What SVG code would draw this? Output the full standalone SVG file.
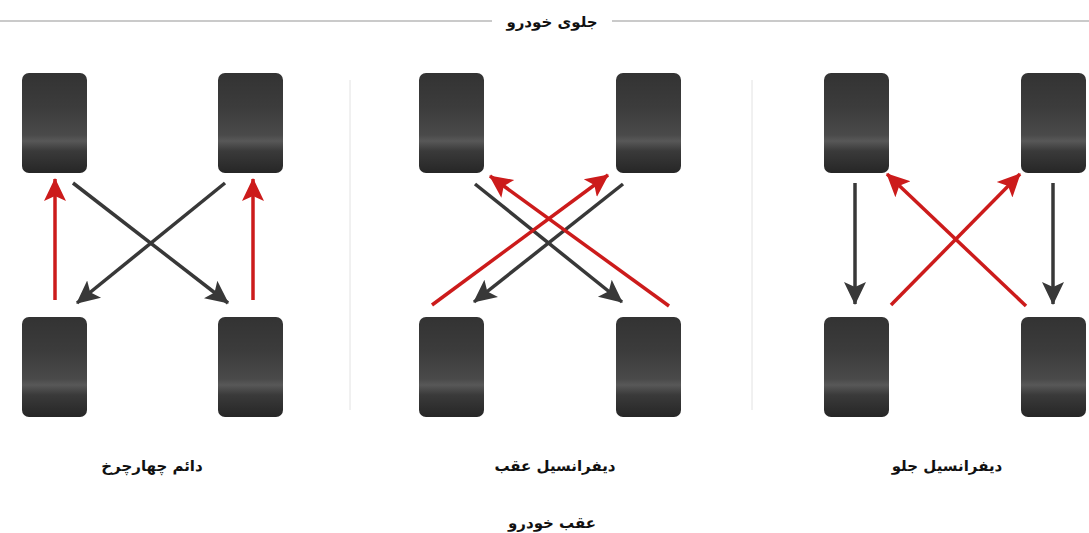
<svg xmlns="http://www.w3.org/2000/svg" width="1089" height="533" viewBox="0 0 1089 533">
<style>
.lbl{font-family:"DejaVu Sans","Noto Sans",sans-serif;font-weight:bold;font-size:15px;fill:#111;text-anchor:middle}
.tire{fill:url(#tg)}
.red{stroke:#cc1b1b;stroke-width:3.5;fill:none}
.dark{stroke:#383838;stroke-width:3.5;fill:none}
.sep{stroke:#e2e2e2;stroke-width:1}
.hl{stroke:#b8b8b8;stroke-width:1.5}
</style>
<defs>
<linearGradient id="tg" x1="0" y1="0" x2="0" y2="1">
<stop offset="0" stop-color="#333"/>
<stop offset="0.35" stop-color="#3c3c3c"/>
<stop offset="0.62" stop-color="#4a4a4a"/>
<stop offset="0.68" stop-color="#585858"/>
<stop offset="0.78" stop-color="#3a3a3a"/>
<stop offset="1" stop-color="#262626"/>
</linearGradient>
<marker id="ar" markerUnits="userSpaceOnUse" markerWidth="24" markerHeight="24" viewBox="0 0 24 24" refX="22" refY="12" orient="auto">
<path d="M0,1 L23,12 L0,23 L5,12 z" fill="#cc1b1b"/>
</marker>
<marker id="ad" markerUnits="userSpaceOnUse" markerWidth="24" markerHeight="24" viewBox="0 0 24 24" refX="22" refY="12" orient="auto">
<path d="M0,1 L23,12 L0,23 L5,12 z" fill="#383838"/>
</marker>
</defs>
<rect width="1089" height="533" fill="#fff"/>
<g id="header">
<line class="hl" x1="0" y1="21" x2="492" y2="21"/>
<line class="hl" x1="612" y1="21" x2="1089" y2="21"/>
<text class="lbl" x="552" y="27" direction="rtl">جلوی خودرو</text>
</g>
<g id="separators">
<line class="sep" x1="350" y1="80" x2="350" y2="410"/>
<line class="sep" x1="752" y1="80" x2="752" y2="410"/>
</g>
<g id="panel-4wd">
<rect class="tire" x="22" y="73" width="65" height="100" rx="7"/>
<rect class="tire" x="218" y="73" width="65" height="100" rx="7"/>
<rect class="tire" x="22" y="317" width="65" height="100" rx="7"/>
<rect class="tire" x="218" y="317" width="65" height="100" rx="7"/>
<text class="lbl" x="152" y="471" direction="rtl">دائم چهارچرخ</text>
</g>
<g id="panel-rwd">
<rect class="tire" x="419" y="73" width="65" height="100" rx="7"/>
<rect class="tire" x="616" y="73" width="65" height="100" rx="7"/>
<rect class="tire" x="419" y="317" width="65" height="100" rx="7"/>
<rect class="tire" x="616" y="317" width="65" height="100" rx="7"/>
<text class="lbl" x="555" y="471" direction="rtl">دیفرانسیل عقب</text>
</g>
<g id="panel-fwd">
<rect class="tire" x="824" y="73" width="65" height="100" rx="7"/>
<rect class="tire" x="1021" y="73" width="65" height="100" rx="7"/>
<rect class="tire" x="824" y="317" width="65" height="100" rx="7"/>
<rect class="tire" x="1021" y="317" width="65" height="100" rx="7"/>
<text class="lbl" x="947" y="471" direction="rtl">دیفرانسیل جلو</text>
</g>
<g id="footer">
<text class="lbl" x="552" y="528" direction="rtl">عقب خودرو</text>
</g>
<g id="connectors">
<line class="red" x1="55" y1="300" x2="55" y2="179" marker-end="url(#ar)"/>
<line class="red" x1="253" y1="300" x2="253" y2="179" marker-end="url(#ar)"/>
<line class="dark" x1="73" y1="183" x2="228" y2="303" marker-end="url(#ad)"/>
<line class="dark" x1="225" y1="183" x2="77" y2="303" marker-end="url(#ad)"/>
<line class="dark" x1="475" y1="184" x2="622" y2="302" marker-end="url(#ad)"/>
<line class="dark" x1="623" y1="184" x2="474" y2="302" marker-end="url(#ad)"/>
<line class="red" x1="432" y1="305" x2="608" y2="175" marker-end="url(#ar)"/>
<line class="red" x1="669" y1="306" x2="490" y2="176" marker-end="url(#ar)"/>
<line class="dark" x1="855" y1="183" x2="855" y2="304" marker-end="url(#ad)"/>
<line class="dark" x1="1053" y1="183" x2="1053" y2="304" marker-end="url(#ad)"/>
<line class="red" x1="891" y1="305" x2="1020" y2="174" marker-end="url(#ar)"/>
<line class="red" x1="1026" y1="306" x2="887" y2="174" marker-end="url(#ar)"/>
</g>
</svg>
